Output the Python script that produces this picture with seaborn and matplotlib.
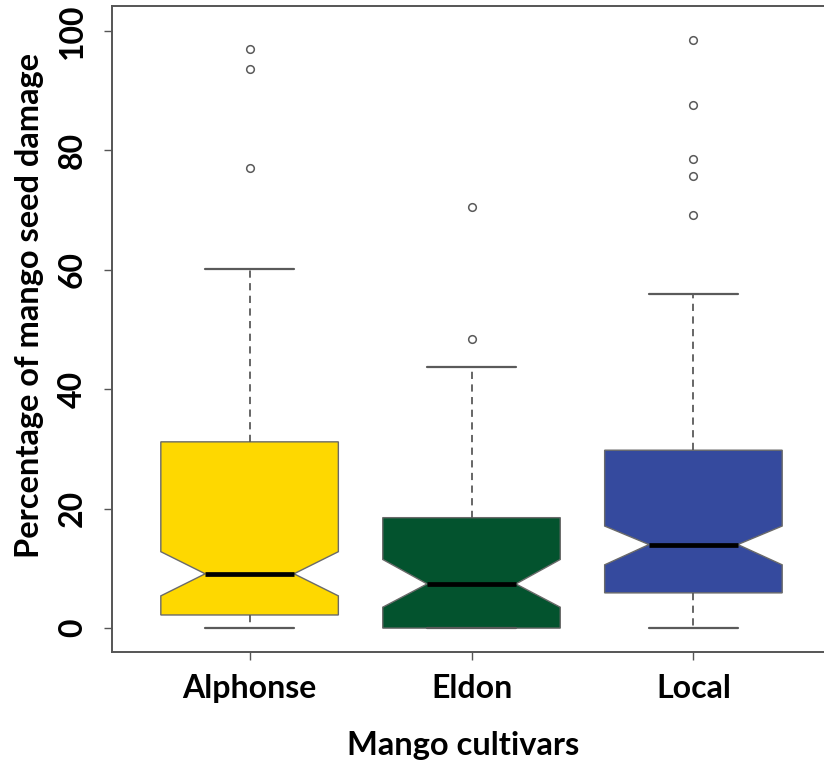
import matplotlib
matplotlib.use("Agg")
import matplotlib.pyplot as plt
import seaborn as sns

# ---- data ----
cultivars = ["Alphonse", "Eldon", "Local"]
whisker_low = [0.0, 0.0, 0.0]
q1 = [2.2, 0.0, 5.9]
median = [9.1, 7.4, 14.0]
q3 = [31.2, 18.5, 29.8]
whisker_high = [60.1, 43.8, 55.9]
notch_low = [5.4, 3.5, 10.6]
notch_high = [12.8, 11.5, 17.1]
outliers = [
    [77.0, 93.7, 97.0],
    [48.5, 70.5],
    [69.2, 75.7, 78.5, 87.7, 98.5],
]
box_colors = ["#FED800", "#03532E", "#354A9E"]
y_ticks = [0, 20, 40, 60, 80, 100]

sns.set_style("white")
plt.rcParams["font.family"] = ["Lato", "DejaVu Sans"]
plt.rcParams["text.color"] = "black"

fig = plt.figure(figsize=(8.24, 7.62), dpi=100)
ax = fig.add_axes([112 / 824, 110 / 762, (831 - 112) / 824, (652 - 6) / 762])

stats = []
for i, name in enumerate(cultivars):
    stats.append(dict(
        label=name, whislo=whisker_low[i], q1=q1[i], med=median[i],
        q3=q3[i], whishi=whisker_high[i], cilo=notch_low[i],
        cihi=notch_high[i], fliers=outliers[i],
    ))

grey = "#5a5a5a"
bp = ax.bxp(
    stats, positions=[1, 2, 3], widths=0.8, shownotches=True,
    patch_artist=True,
    boxprops=dict(edgecolor="#6a6a6a", linewidth=1.0),
    medianprops=dict(color="black", linewidth=3.4, solid_capstyle="butt"),
    whiskerprops=dict(color=grey, linewidth=1.3, linestyle=(0, (4, 3))),
    capprops=dict(color=grey, linewidth=1.6),
    flierprops=dict(marker="o", markersize=5.5, markerfacecolor="none",
                    markeredgecolor=grey, markeredgewidth=1.1),
    capwidths=0.4,
)
for patch, c in zip(bp["boxes"], box_colors):
    patch.set_facecolor(c)

ax.set_xlim(0.38, 3.62)
ax.set_ylim(-4.0, 104.2)
ax.set_yticks(y_ticks)
ax.set_yticklabels([str(v) for v in y_ticks], rotation=90, va="center")
ax.set_xticks([1, 2, 3])
ax.set_xticklabels(cultivars)

for side in ["left", "bottom", "top"]:
    ax.spines[side].set_color("#555555")
    ax.spines[side].set_linewidth(1.4)
ax.spines["right"].set_visible(False)

ax.tick_params(axis="both", which="both", direction="out", length=6,
               width=1.0, color="#555555", labelsize=23, labelcolor="black")
ax.tick_params(axis="y", pad=12, left=True)
ax.tick_params(axis="x", pad=10, bottom=True)
for lbl in ax.get_xticklabels() + ax.get_yticklabels():
    lbl.set_fontweight("bold")

ax.set_xlabel("Mango cultivars", fontsize=23.5, fontweight="bold",
              labelpad=20, color="black")
ax.set_ylabel("Percentage of mango seed damage", fontsize=23.5,
              fontweight="bold", labelpad=10, color="black")
ax.xaxis.label.set_x((463.5 - 112) / 719)
ax.yaxis.label.set_y((652 - 306) / 646)

fig.savefig("out.png", dpi=100)
